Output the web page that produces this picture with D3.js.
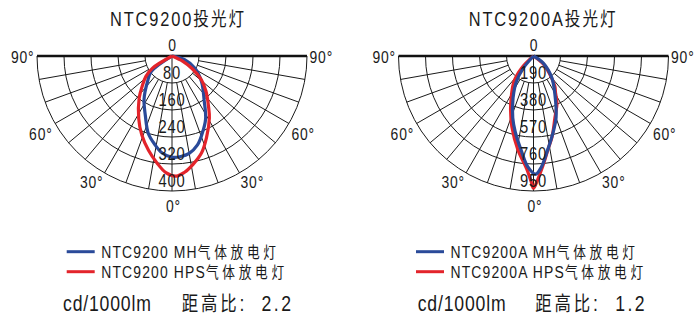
<!DOCTYPE html>
<html><head><meta charset="utf-8">
<script src="https://cdn.jsdelivr.net/npm/d3@7/dist/d3.min.js"></script>
<style>
body{margin:0;background:#fff;}
svg{display:block;}
text{font-family:"Liberation Sans",Arial,"Noto Sans CJK SC",sans-serif;fill:#1a1a1a;}
.cjk{font-family:"Noto Sans CJK SC",sans-serif;}
</style></head><body>
<svg id="chart" width="694" height="315"></svg>
<script>
// ---------- data ----------
const models = ["NTC9200", "NTC9200A"];
const titleSuffix = "投光灯";
const ringLabelsA = [80, 160, 240, 320, 400];
const ringLabelsB = [190, 380, 570, 760, 950];
const gridAngles = [-80, -70, -60, -50, -40, -30, -20, -10, 0, 10, 20, 30, 40, 50, 60, 70, 80];
const degreeLabels = [90, 60, 30, 0];
const lampCodes = ["MH", "HPS"];
const lampName = "气体放电灯";
const unitLabel = "cd/1000lm";
const ratioLabel = "距高比";
const ratios = ["2.2", "1.2"];

// NTC9200 – MH (blue)
const mhAnglesA = [-60, -53, -44, -33, -24, -17, -11, -6, 0, 5, 10, 16, 21, 28, 36, 49, 62, 74, 78];
const mhValuesA = [0, 77, 104, 152, 194, 240, 267, 288, 300, 299, 293, 274, 248, 212, 162, 116, 77, 39, 0];
// NTC9200 – HPS (red)
const hpsAnglesA = [-63, -58, -52, -45, -38, -28, -21, -14, -8, -3, 2, 6, 11, 17, 23, 31, 36, 44, 51, 58, 64, 67];
const hpsValuesA = [0, 68, 98, 124, 158, 210, 250, 288, 320, 346, 356, 347, 327, 300, 262, 215, 184, 145, 112, 70, 36, 0];
// NTC9200A – MH (blue)
const mhAnglesB = [-46, -40, -34, -26, -18.5, -13.5, -7, -3, 1, 4, 8, 14.5, 20, 29, 40, 54, 62];
const mhValuesB = [0, 111, 214, 328, 460, 550, 680, 780, 832, 785, 682, 553, 464, 311, 201, 85, 0];
// NTC9200A – HPS (red)
const hpsAnglesB = [-50, -44.5, -37.5, -28, -23, -17, -9.5, -3.5, -1, 0, 2, 5, 9, 13, 19, 26.5, 31, 35, 41.5, 50, 56];
const hpsValuesB = [0, 118, 225, 335, 413, 521, 668, 794, 887, 931, 868, 772, 661, 582, 462, 370, 300, 262, 175, 100, 0];

// ---------- layout ----------
const BLUE = "#2a4a99", RED = "#e3242b";
const R = 135;
const SX = 0.82; // condensed look
const panels = [
  {cx: 172, cy: 56, model: models[0], rings: ringLabelsA, ratio: ratios[0],
   series: [{a: mhAnglesA, v: mhValuesA, c: BLUE}, {a: hpsAnglesA, v: hpsValuesA, c: RED}],
   titleX: 110, legendX: 66.7, unitX: 63, ratioX: 181.7},
  {cx: 533.5, cy: 56, model: models[1], rings: ringLabelsB, ratio: ratios[1],
   series: [{a: hpsAnglesB, v: hpsValuesB, c: RED}, {a: mhAnglesB, v: mhValuesB, c: BLUE}],
   titleX: 468.7, legendX: 416, unitX: 417.7, ratioX: 535.3}
];

const svg = d3.select("#chart");
const rad = d => d * Math.PI / 180;
function txt(parent, x, y, size, anchor, ls) {
  return parent.append("text")
    .attr("transform", `translate(${x},${y}) scale(${SX},1)`)
    .attr("font-size", size).attr("text-anchor", anchor || "start")
    .attr("letter-spacing", ls || 0);
}

panels.forEach(p => {
  const g = svg.append("g").attr("transform", `translate(${p.cx},${p.cy})`);
  const r = d3.scaleLinear().domain([0, p.rings[p.rings.length - 1]]).range([0, R]);

  // rings
  p.rings.forEach(v => {
    const path = d3.path();
    path.moveTo(-r(v), 0);
    path.arc(0, 0, r(v), Math.PI, 0, true);
    g.append("path").attr("d", path.toString()).attr("fill", "none")
      .attr("stroke", "#1a1a1a").attr("stroke-width", 1);
  });
  // radial lines
  gridAngles.forEach(a => {
    const r0 = a === 0 ? 0 : r(p.rings[0]);
    const t = rad(a);
    g.append("line")
      .attr("x1", r0 * Math.sin(t)).attr("y1", r0 * Math.cos(t))
      .attr("x2", R * Math.sin(t)).attr("y2", R * Math.cos(t))
      .attr("stroke", "#1a1a1a").attr("stroke-width", 1);
  });
  // top line
  g.append("line").attr("x1", -R).attr("x2", R).attr("y1", 0).attr("y2", 0)
    .attr("stroke", "#111").attr("stroke-width", 2.6);

  // curves
  p.series.forEach(s => {
    const pts = s.a.map((a, i) => [Math.PI - rad(a), r(s.v[i])]);
    const line = d3.lineRadial().angle(d => d[0]).radius(d => d[1]).curve(d3.curveCatmullRom.alpha(0.5));
    g.append("path").attr("d", line(pts)).attr("fill", "none")
      .attr("stroke", s.c).attr("stroke-width", 3.2).attr("stroke-linejoin", "round");
  });

  // ring labels
  p.rings.forEach(v => {
    txt(g, 0, r(v) - 4.5, 18, "middle", 1).text(v);
  });
  txt(g, 0, -5.5, 17, "middle", 0).text("0");

  // degree labels
  degreeLabels.forEach(d => {
    const t = rad(d);
    const pos = {90: [R + 2.5, 6.7], 60: [R * Math.sin(t) + 2.5, 84], 30: [R * Math.sin(t) + 1, 132], 0: [0, R + 21]}[d];
    const sides = d === 0 ? [0] : [-1, 1];
    sides.forEach(sg => {
      txt(g, sg * pos[0] + (d === 0 ? 1.5 : 0), pos[1], 17,
          sg < 0 ? "end" : sg > 0 ? "start" : "middle", 1).text(d + "°");
    });
  });

  // title
  const tt = txt(svg, p.titleX, 26, 20, "start", 2.3);
  tt.append("tspan").text(p.model);
  tt.append("tspan").attr("class", "cjk").attr("font-size", 19).attr("letter-spacing", 2.5).text(titleSuffix);

  // legend
  [BLUE, RED].forEach((c, i) => {
    const y = 251.7 + i * 20;
    svg.append("line").attr("x1", p.legendX).attr("x2", p.legendX + 28).attr("y1", y).attr("y2", y)
      .attr("stroke", c).attr("stroke-width", 3);
    const t = txt(svg, p.legendX + 34.5, y + 6.3, 17, "start", 1.4);
    t.append("tspan").text(p.model + " " + lampCodes[i]);
    t.append("tspan").attr("class", "cjk").attr("font-size", 15.5).attr("letter-spacing", 4.5).text(lampName);
  });

  // bottom note
  txt(svg, p.unitX, 310.5, 21.5, "start", 1).text(unitLabel);
  const rt = txt(svg, p.ratioX, 310.5, 21.5, "start", 1);
  rt.append("tspan").attr("class", "cjk").attr("font-size", 20).attr("letter-spacing", 3.5).text(ratioLabel);
  rt.append("tspan").text(":");
  rt.append("tspan").attr("dx", 20).attr("letter-spacing", 3).text(p.ratio);
});
</script>
</body></html>
